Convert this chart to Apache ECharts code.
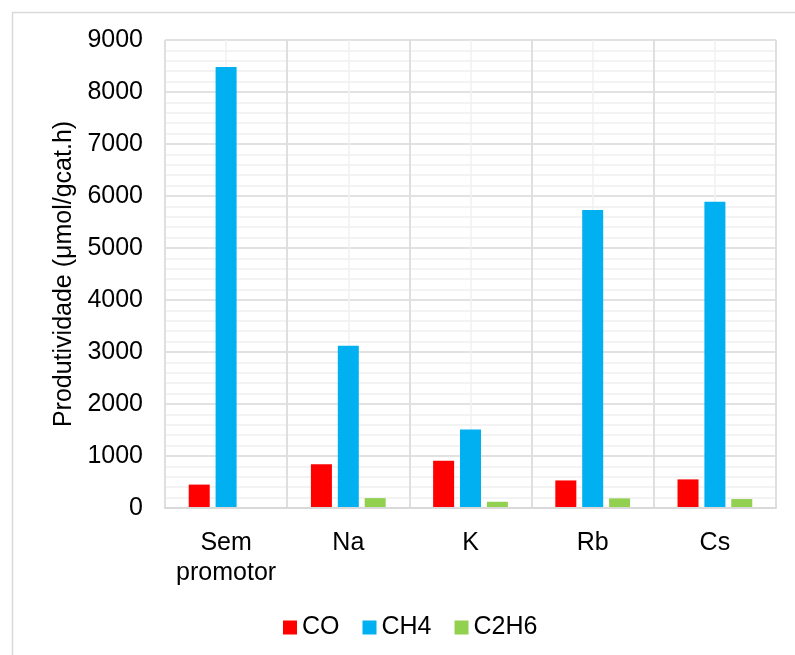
<!DOCTYPE html>
<html>
<head>
<meta charset="utf-8">
<script src="https://cdn.jsdelivr.net/npm/echarts@6/dist/echarts.min.js"></script>
<style>
  html, body { margin: 0; padding: 0; background: #fff; }
  #main { width: 795px; height: 655px; }
</style>
</head>
<body>
<div id="main"></div>
<script>
// dados
var categorias = ['Sem\npromotor', 'Na', 'K', 'Rb', 'Cs'];
var serieCO = [450, 840, 910, 530, 550];
var serieCH4 = [8480, 3120, 1510, 5730, 5890];
var serieC2H6 = [0, 190, 120, 185, 172];
var yTicks = [0, 1000, 2000, 3000, 4000, 5000, 6000, 7000, 8000, 9000];

var chart = echarts.init(document.getElementById('main'));
var fonte = 'Liberation Sans, Arial, sans-serif';

function barra(nome, dados, cor) {
    return {
        name: nome,
        type: 'bar',
        data: dados,
        barWidth: 21,
        barGap: '28%',
        xAxisIndex: 0,
        itemStyle: { color: cor },
        emphasis: { disabled: true }
    };
}

var option = {
    animation: false,
    backgroundColor: '#fff',
    graphic: [{
        type: 'rect',
        left: 10, top: 10,
        shape: { width: 800, height: 660 },
        style: { fill: 'none', stroke: '#d9d9d9', lineWidth: 1.5 },
        z: -10
    }],
    grid: { left: 165, right: 19, top: 40, bottom: 147 },
    legend: {
        bottom: 10,
        left: 278,
        itemWidth: 14,
        itemHeight: 14,
        itemGap: 23,
        icon: 'rect',
        textStyle: { fontFamily: fonte, fontSize: 25, color: '#000' },
        data: ['CO', 'CH4', 'C2H6']
    },
    xAxis: [{
        type: 'category',
        data: categorias,
        axisLine: { show: true, lineStyle: { color: '#d9d9d9', width: 2 } },
        axisTick: { show: false },
        splitLine: { show: true, interval: 0, lineStyle: { color: '#d9d9d9', width: 1.5 } },
        axisLabel: { interval: 0, fontFamily: fonte, fontSize: 25, color: '#000', margin: 20, lineHeight: 30 },
        z: 3
    }, {
        type: 'value',
        min: 0, max: 10, interval: 1,
        show: true,
        position: 'top',
        axisLine: { show: false },
        axisTick: { show: false },
        axisLabel: { show: false },
        splitLine: { show: true, lineStyle: { color: '#f0f0f0', width: 1.5 } }
    }],
    yAxis: {
        type: 'value',
        min: yTicks[0],
        max: yTicks[yTicks.length - 1],
        interval: 1000,
        name: 'Produtividade (μmol/gcat.h)',
        nameLocation: 'middle',
        nameGap: 88,
        nameTextStyle: { fontFamily: fonte, fontSize: 25, color: '#000' },
        axisLine: { show: false },
        axisTick: { show: false },
        axisLabel: {
            fontFamily: fonte, fontSize: 25, color: '#000', margin: 22,
            formatter: function(v) { return String(v); }
        },
        splitLine: { show: true, lineStyle: { color: '#d9d9d9', width: 1.5 } },
        minorTick: { show: false, splitNumber: 5 },
        minorSplitLine: { show: true, lineStyle: { color: '#f0f0f0', width: 1.5 } }
    },
    series: [
        barra('CO', serieCO, '#ff0000'),
        barra('CH4', serieCH4, '#00b0f0'),
        barra('C2H6', serieC2H6, '#92d050')
    ]
};
chart.setOption(option);
</script>
</body>
</html>
